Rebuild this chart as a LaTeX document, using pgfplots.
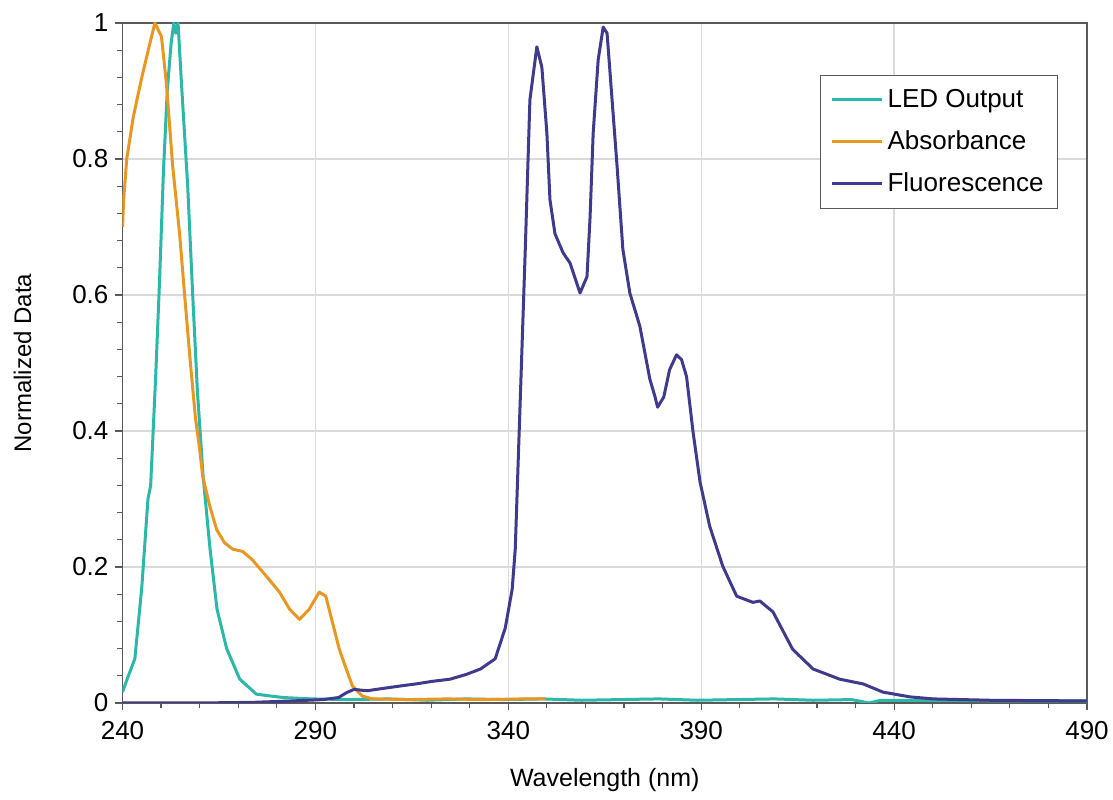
\documentclass[border=0pt]{standalone}
\usepackage{pgfplots}
\pgfplotsset{compat=1.18}
\usepackage{fontspec}
\setmainfont{Liberation Sans}

\definecolor{ledc}{RGB}{43,184,168}
\definecolor{absc}{RGB}{232,152,34}
\definecolor{fluc}{RGB}{64,58,140}
\definecolor{axc}{RGB}{90,90,90}
\definecolor{gridc}{RGB}{218,218,218}

\begin{document}
\begin{tikzpicture}
\begin{axis}[
  name=ax,
  scale only axis, width=482.25pt, height=340pt,
  xmin=240, xmax=490, ymin=0, ymax=1,
  xtick={240,290,...,490}, ytick={0,0.2,...,1},
  minor x tick num=4, minor y tick num=4,
  xtick pos=bottom, ytick pos=left,
  tick align=outside, major tick length=3.5pt, minor tick length=2.5pt,
  tick style={axc, line width=0.6pt},
  axis line style={axc, line width=0.8pt},
  ymajorgrids, xmajorgrids,
  major grid style={gridc, line width=0.7pt},
  /pgf/number format/assume math mode=true,
  ticklabel style={font=\fontsize{13}{13}\selectfont},
  xticklabel style={yshift=-2pt},
  yticklabel style={/pgf/number format/fixed},
  xlabel={Wavelength (nm)}, ylabel={Normalized Data},
  every axis x label/.style={at={(axis description cs:0.5,0)}, anchor=center,
    yshift=-38.5pt, font=\fontsize{12.5}{14}\selectfont},
  every axis y label/.style={at={(axis description cs:-0.1037,0.5)}, rotate=90,
    anchor=center, font=\fontsize{12}{14}\selectfont},
  legend style={at={(0.970,0.9235)}, anchor=north east, draw=axc,
    font=\fontsize{13}{15}\selectfont, row sep=6pt, inner xsep=5pt, inner ysep=5pt},
  legend cell align=left,
  legend image code/.code={\draw[#1] (0pt,0pt) -- (25pt,0pt);},
  every axis plot/.append style={line width=1.5pt, line join=round},
]
% LED Output
\addplot[ledc] coordinates {
(240,0.016) (241.2,0.035) (243.2,0.065) (245.0,0.17) (246.6,0.30) (247.3,0.32)
(248.6,0.48) (249.6,0.62) (250.6,0.78) (251.6,0.90) (252.6,0.97) (253.3,1.0)
(253.8,0.985) (254.4,1.0) (255.3,0.91) (256.9,0.76) (258.2,0.60) (259.4,0.46)
(260.9,0.333) (262.7,0.226) (264.5,0.138) (267.0,0.08) (270.4,0.035)
(274.7,0.013) (278.7,0.010) (281.8,0.008) (289,0.006) (299,0.005) (309,0.006)
(319,0.004) (329,0.006) (339,0.005) (349,0.006) (359,0.004) (369,0.005)
(379,0.006) (389,0.004) (399,0.005) (409,0.006) (419,0.004) (429,0.005)
(433.5,0.0) (436.5,0.004) (450,0.004) (470,0.003) (490,0.003)
};
\addlegendentry{LED Output}
% Absorbance
\addplot[absc] coordinates {
(240,0.70) (240.3,0.74) (241.1,0.80) (242.8,0.862) (245.0,0.92) (247.1,0.97)
(248.4,1.0) (250.1,0.98) (251.4,0.91) (253.0,0.79) (254.8,0.69) (256.1,0.60)
(257.6,0.50) (258.9,0.42) (260.0,0.373) (260.8,0.333) (262.6,0.29)
(264.4,0.255) (266.4,0.236) (268.6,0.226) (271.1,0.223) (273.6,0.211)
(277.2,0.187) (280.7,0.163) (283.3,0.138) (285.9,0.123) (288.4,0.138)
(291.0,0.163) (292.7,0.157) (294.4,0.119) (296.2,0.079) (298.0,0.05)
(299.6,0.025) (302.2,0.01) (304.8,0.006) (314,0.005) (324,0.006) (334,0.005)
(344,0.006) (349.6,0.006)
};
\addlegendentry{Absorbance}
% Fluorescence
\addplot[fluc] coordinates {
(240,0.0) (260,0.0) (274,0.001) (284,0.003) (292,0.005) (296,0.008)
(298,0.015) (300,0.02) (303.4,0.018) (307,0.021) (312,0.025) (316,0.028)
(320.5,0.032) (324.9,0.035) (329.1,0.042) (332.8,0.05) (336.6,0.065)
(339.2,0.11) (341.0,0.167) (341.8,0.226) (343.1,0.446) (344.4,0.667)
(345.6,0.887) (347.4,0.965) (348.7,0.935) (350.0,0.838) (350.8,0.74)
(352.1,0.69) (354.2,0.662) (356.0,0.647) (358.6,0.603) (360.4,0.627)
(361.2,0.715) (362.0,0.838) (363.3,0.946) (364.6,0.994) (365.6,0.985)
(366.9,0.887) (368.2,0.789) (369.7,0.667) (371.5,0.603) (374.1,0.554)
(376.7,0.476) (378.0,0.451) (378.7,0.435) (380.3,0.45) (381.8,0.49)
(383.6,0.512) (384.9,0.505) (386.2,0.48) (387.9,0.398) (389.7,0.325)
(392.2,0.26) (395.6,0.201) (399.2,0.157) (403.4,0.148) (405.2,0.15)
(408.6,0.134) (413.7,0.079) (419.0,0.05) (425.9,0.035) (432.0,0.028)
(437.1,0.016) (444.1,0.009) (450.1,0.006) (465,0.004) (490,0.003)
};
\addlegendentry{Fluorescence}
\end{axis}
\pgfresetboundingbox
\path ([shift={(-61.25pt,-48.5pt)}]ax.south west) rectangle ([shift={(13pt,11.5pt)}]ax.north east);
\end{tikzpicture}
\end{document}
